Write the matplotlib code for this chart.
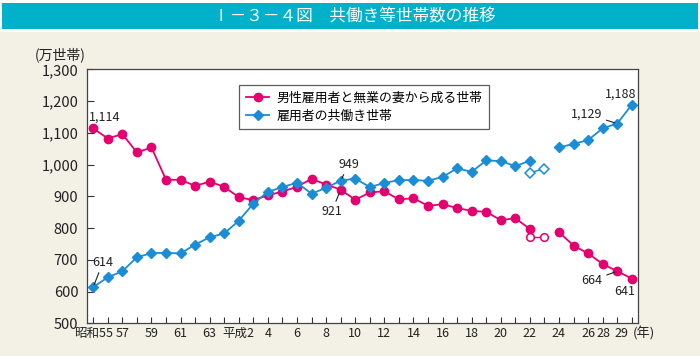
import matplotlib
matplotlib.use("Agg")
import matplotlib.pyplot as plt
from matplotlib.patches import Rectangle
from matplotlib.lines import Line2D

plt.rcParams['font.family'] = ['Noto Sans CJK JP', 'DejaVu Sans']

# ---- data ----
years_a = list(range(1980, 2011))          # 昭和55 - 平成22
years_b = list(range(2012, 2018))          # 平成24 - 29
years_h = [2010, 2011]                     # hollow (岩手・宮城・福島除く)

single = [1114, 1082, 1096, 1038, 1054, 952, 952, 933, 946, 930, 897, 888, 903, 915,
          930, 955, 937, 921, 889, 912, 916, 890, 894, 870, 875, 863, 854, 851, 825,
          831, 797]
dual = [614, 645, 664, 708, 721, 722, 720, 748, 771, 783, 823, 877, 914, 929, 943,
        908, 927, 949, 956, 929, 942, 951, 951, 949, 961, 988, 977, 1013, 1011, 995,
        1012]
single_b = [787, 745, 720, 687, 664, 641]
dual_b = [1054, 1065, 1077, 1114, 1129, 1188]
single_h = [773, 773]
dual_h = [974, 987]

tick_years = [1980, 1982, 1984, 1986, 1988, 1990, 1992, 1994, 1996, 1998, 2000, 2002,
              2004, 2006, 2008, 2010, 2012, 2014, 2016, 2017]
tick_labels = ['昭和55', '57', '59', '61', '63', '平成2', '4', '6', '8', '10', '12', '14',
               '16', '18', '20', '22', '24', '26', '28', '29']
yticks = [500, 600, 700, 800, 900, 1000, 1100, 1200, 1300]
series_names = ['男性雇用者と無業の妻から成る世帯', '雇用者の共働き世帯']

PINK = '#E5006F'
BLUE = '#1A8DD6'
BEIGE = '#F3F0E6'
TEAL = '#00B1C9'

fig = plt.figure(figsize=(7.0, 3.56), dpi=100, facecolor='white')
W, H = 700, 356
fig.patches.append(Rectangle((0, 0), 1, 1 - 32 / H, transform=fig.transFigure,
                             facecolor=BEIGE, edgecolor='none', zorder=-10))
fig.patches.append(Rectangle((2 / W, 1 - 29 / H), 696 / W, 26 / H, transform=fig.transFigure,
                             facecolor=TEAL, edgecolor='none', zorder=-10))
fig.text(0.506, 1 - 16 / H, 'Ⅰ－３－４図　共働き等世帯数の推移', color='white',
         fontsize=12, ha='center', va='center')

ax = fig.add_axes([86.7 / W, 1 - 323.3 / H, (638.3 - 86.7) / W, (323.3 - 69.3) / H])
ax.set_facecolor('white')

lw = 1.3
ax.plot(years_a, single, color=PINK, lw=lw, marker='o', ms=6, zorder=3)
ax.plot(years_b, single_b, color=PINK, lw=lw, marker='o', ms=6, zorder=3)
ax.plot(years_h, single_h, color=PINK, lw=1.0, marker='o', ms=5.5,
        mfc='white', mec=PINK, mew=1.1, zorder=3)
ax.plot(years_a, dual, color=BLUE, lw=lw, marker='D', ms=5.5, zorder=3)
ax.plot(years_b, dual_b, color=BLUE, lw=lw, marker='D', ms=5.5, zorder=3)
ax.plot(years_h, dual_h, color=BLUE, lw=1.0, marker='D', ms=5,
        mfc='white', mec=BLUE, mew=1.1, zorder=3)

ax.set_xlim(1979.55, 2017.45)
ax.set_ylim(500, 1300)
ax.set_yticks(yticks)
ax.set_yticklabels([f'{v:,}' for v in yticks], fontsize=10.5, color='#222222')
ax.set_xticks(list(range(1980, 2018)))
ax.set_xticklabels([''] * len(range(1980, 2018)))
ax.tick_params(axis='x', direction='in', length=4, width=0.8, color='#333333')
ax.tick_params(axis='y', direction='in', length=5, width=0.8, color='#333333', pad=6)
for s in ax.spines.values():
    s.set_color('#444444')
    s.set_linewidth(0.9)

# x tick labels
offsets = {2016: -14, 2017: -10}
for yr, lab in zip(tick_years, tick_labels):
    dx = offsets.get(yr, 0) / 100 * 72
    ax.annotate(lab, xy=(yr, 0), xycoords=('data', 'axes fraction'),
                xytext=(dx, -7), textcoords='offset points', ha='center', va='center',
                fontsize=9, color='#222222', annotation_clip=False)
ax.annotate('(年)', xy=(1, 0), xycoords='axes fraction', xytext=(-4, -7),
            textcoords='offset points', ha='left', va='center', fontsize=9.5,
            color='#222222', annotation_clip=False)
fig.text(60 / W, 1 - 55 / H, '(万世帯)', ha='center', va='center', fontsize=10,
         color='#222222')

# value annotations
txt_kw = dict(textcoords='offset points', ha='center', va='center', fontsize=9,
              color='#222222', annotation_clip=False)
arrow = dict(arrowstyle='-', color='#222222', lw=0.8, shrinkA=1, shrinkB=2)

ax.annotate('1,114', xy=(years_a[0], single[0]), xytext=(8, 8), **txt_kw)
ax.annotate('614', xy=(years_a[0], dual[0]), xytext=(7, 18), arrowprops=arrow, **txt_kw)
i97 = years_a.index(1997)
ax.annotate('949', xy=(1997, dual[i97]), xytext=(6, 12), arrowprops=arrow, **txt_kw)
ax.annotate('921', xy=(1997, single[i97]), xytext=(-6.5, -16), arrowprops=arrow, **txt_kw)
ax.annotate('1,129', xy=(2016, dual_b[4]), xytext=(-22, 7), arrowprops=arrow, **txt_kw)
ax.annotate('1,188', xy=(2017, dual_b[5]), xytext=(-8, 8), **txt_kw)
ax.annotate('664', xy=(2016, single_b[4]), xytext=(-18, -6.5), arrowprops=arrow, **txt_kw)
ax.annotate('641', xy=(2017, single_b[5]), xytext=(-5, -9), **txt_kw)

handles = [Line2D([], [], color=PINK, lw=lw, marker='o', ms=6),
           Line2D([], [], color=BLUE, lw=lw, marker='D', ms=5.5)]
leg = ax.legend(handles, series_names, loc='upper left',
                bbox_to_anchor=((233 - 86.7) / 551.6, 1 - (79 - 69.3) / 254),
                fontsize=9.3, frameon=True, fancybox=False, edgecolor='#333333',
                handlelength=1.8, borderpad=0.5, labelspacing=0.35, handletextpad=0.6)
leg.get_frame().set_linewidth(0.9)

fig.savefig('out.png', dpi=100, facecolor=fig.get_facecolor())
